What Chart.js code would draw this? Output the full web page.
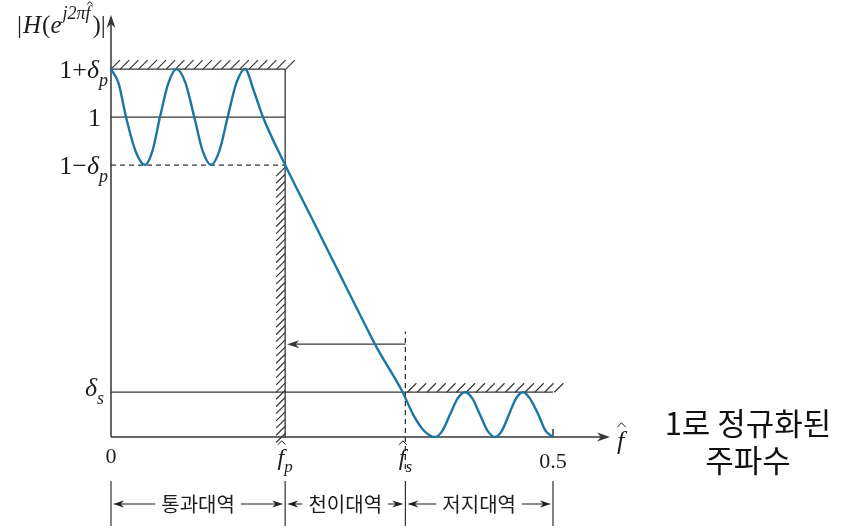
<!DOCTYPE html>
<html lang="ko">
<head>
<meta charset="UTF-8">
<title>저역통과 필터 사양</title>
<script src="https://cdn.jsdelivr.net/npm/chart.js"></script>
<style>
    html, body { margin: 0; padding: 0; background: #fff; }
    canvas { display: block; }
</style>
</head>
<body>
<canvas id="filterChart" width="851" height="529"></canvas>
<script>
// 필터 규격 (정규화 주파수, 크기)
const deltaP = 0.15;
const deltaS = 0.14;
const fPass = 0.197;
const fStop = 0.333;
const fHalf = 0.5;
const arrowLevel = 0.29;

// 크기 응답 |H| - 그림에서 읽은 점들 (통과대역 / 천이대역 / 저지대역)
const respF = [
    0, 0.0085, 0.017, 0.0277, 0.0385, 0.0469, 0.0554, 0.0649, 0.0743, 0.0843, 0.0942, 0.1037,
    0.1131, 0.1226, 0.132, 0.1418, 0.1516, 0.1618, 0.1719,
    0.197, 0.23, 0.26, 0.287, 0.301, 0.33,
    0.342, 0.3533, 0.3665, 0.375, 0.3835, 0.392, 0.4005, 0.4089, 0.4174, 0.4259,
    0.4344, 0.4423, 0.4502, 0.4581, 0.4661, 0.474, 0.4834, 0.4915, 0.5
];
const respMag = [
    1.15, 1.106, 1.0, 0.894, 0.85, 0.894, 1.0, 1.106, 1.15, 1.106, 1.0, 0.894,
    0.85, 0.894, 1.0, 1.106, 1.15, 1.08, 1.0,
    0.85, 0.668, 0.502, 0.353, 0.278, 0.14,
    0.069, 0.022, 0.0, 0.02, 0.07, 0.12, 0.14, 0.12, 0.07, 0.02,
    0.0, 0.02, 0.07, 0.12, 0.14, 0.12, 0.07, 0.02, 0.0
];

// 축 라벨
const bandNames = ['통과대역', '천이대역', '저지대역'];
const bandEdges = [0, fPass, fStop, fHalf];
const noteLines = ['1로 정규화된', '주파수'];

const lineGray = '#363636';
const curveBlue = '#1c76a2';
const serif = '"Liberation Serif", "DejaVu Serif", serif';

function seg(x1, y1, x2, y2) {
    return [{ x: x1, y: y1 }, { x: x2, y: y2 }];
}

function refLine(data, dashed) {
    return {
        data: data,
        borderColor: lineGray,
        borderWidth: 1.3,
        borderDash: dashed ? [5, 4] : [],
        pointRadius: 0,
        tension: 0,
        clip: false
    };
}

// 수식 조각 그리기: {t, i: 이탤릭, sub, sup, hat}
function drawMath(ctx, parts, x, y, align, size) {
    const fontOf = p => (p.i ? 'italic ' : '') + Math.round((p.sub || p.sup) ? size * 0.7 : size) + 'px ' + serif;
    let total = 0;
    parts.forEach(p => {
        ctx.font = fontOf(p);
        p.w = ctx.measureText(p.t).width + (p.pad || 0);
        total += p.w;
    });
    let cx = align === 'right' ? x - total : align === 'center' ? x - total / 2 : x;
    ctx.textAlign = 'left';
    ctx.textBaseline = 'alphabetic';
    parts.forEach(p => {
        ctx.font = fontOf(p);
        const dy = p.sub ? size * 0.3 : p.sup ? -size * 0.55 : 0;
        ctx.fillText(p.t, cx, y + dy);
        if (p.hat) {
            const fsz = (p.sub || p.sup) ? size * 0.7 : size;
            const hx = cx + p.w * 0.62;
            const hy = y + dy - fsz * 0.84;
            ctx.beginPath();
            ctx.moveTo(hx - fsz * 0.16, hy);
            ctx.lineTo(hx, hy - fsz * 0.17);
            ctx.lineTo(hx + fsz * 0.16, hy);
            ctx.lineWidth = 1;
            ctx.stroke();
        }
        cx += p.w;
    });
}

function arrowHead(ctx, x, y, dir, len, half) {
    ctx.beginPath();
    if (dir === 'left') { ctx.moveTo(x, y); ctx.lineTo(x + len, y - half); ctx.lineTo(x + len * 0.7, y); ctx.lineTo(x + len, y + half); }
    if (dir === 'right') { ctx.moveTo(x, y); ctx.lineTo(x - len, y - half); ctx.lineTo(x - len * 0.7, y); ctx.lineTo(x - len, y + half); }
    if (dir === 'up') { ctx.moveTo(x, y); ctx.lineTo(x - half, y + len); ctx.lineTo(x, y + len * 0.7); ctx.lineTo(x + half, y + len); }
    ctx.closePath();
    ctx.fill();
}

const sketchPlugin = {
    id: 'sketch',
    beforeDatasetsDraw(chart) {
        const ctx = chart.ctx;
        const xs = chart.scales.x, ys = chart.scales.y;
        const area = chart.chartArea;
        const x0 = xs.getPixelForValue(0), y0 = ys.getPixelForValue(0);
        ctx.save();
        ctx.strokeStyle = lineGray;
        ctx.fillStyle = lineGray;
        ctx.lineWidth = 1.5;

        // 축
        ctx.beginPath();
        ctx.moveTo(x0, y0); ctx.lineTo(x0, area.top + 4);
        ctx.moveTo(x0, y0); ctx.lineTo(area.right - 4, y0);
        ctx.stroke();
        arrowHead(ctx, x0, area.top, 'up', 13, 4.5);
        arrowHead(ctx, area.right, y0, 'right', 13, 4.5);

        // 0.5 눈금
        const xh = xs.getPixelForValue(fHalf);
        ctx.beginPath();
        ctx.moveTo(xh, y0); ctx.lineTo(xh, y0 - 8);
        ctx.stroke();

        // 빗금
        ctx.lineWidth = 1.2;
        const yTop = ys.getPixelForValue(1 + deltaP);
        const xp = xs.getPixelForValue(fPass);
        ctx.beginPath();
        for (let x = x0; x <= xp + 2; x += 9.2) { ctx.moveTo(x, yTop); ctx.lineTo(x + 9, yTop - 9); }
        const yLow = ys.getPixelForValue(1 - deltaP);
        for (let y = yLow + 2; y <= y0; y += 7.2) { ctx.moveTo(xp, y); ctx.lineTo(xp - 9, y + 9); }
        const ys0 = ys.getPixelForValue(deltaS);
        const xsPix = xs.getPixelForValue(fStop);
        for (let x = xsPix + 2; x <= xh + 2; x += 9.8) { ctx.moveTo(x, ys0); ctx.lineTo(x + 9, ys0 - 9); }
        ctx.stroke();

        // 천이대역 화살표
        const ya = ys.getPixelForValue(arrowLevel);
        ctx.lineWidth = 1.2;
        ctx.beginPath();
        ctx.moveTo(xsPix, ya); ctx.lineTo(xp + 8, ya);
        ctx.stroke();
        arrowHead(ctx, xp + 2, ya, 'left', 12, 4);
        ctx.restore();
    },
    afterDraw(chart) {
        const ctx = chart.ctx;
        const xs = chart.scales.x, ys = chart.scales.y;
        const x0 = xs.getPixelForValue(0), y0 = ys.getPixelForValue(0);
        ctx.save();
        ctx.fillStyle = '#1e1e1e';
        ctx.strokeStyle = '#1e1e1e';

        // 세로축 제목
        drawMath(ctx, [
            { t: '|', pad: 1 }, { t: 'H', i: true, pad: 1 }, { t: '(' }, { t: 'e', i: true, pad: 1 },
            { t: 'j2π', i: true, sup: true }, { t: 'f', i: true, sup: true, hat: true, pad: 2 }, { t: ')|' }
        ], 17, 33, 'left', 25);

        // 세로축 눈금 라벨
        const lx = x0 - 3;
        drawMath(ctx, [{ t: '1+' }, { t: 'δ', i: true }, { t: 'p', i: true, sub: true }], lx, ys.getPixelForValue(1 + deltaP) + 9, 'right', 26);
        drawMath(ctx, [{ t: '1' }], x0 - 10, ys.getPixelForValue(1) + 9, 'right', 26);
        drawMath(ctx, [{ t: '1−' }, { t: 'δ', i: true }, { t: 'p', i: true, sub: true }], lx, ys.getPixelForValue(1 - deltaP) + 9, 'right', 26);
        drawMath(ctx, [{ t: 'δ', i: true }, { t: 's', i: true, sub: true }], x0 - 7, ys.getPixelForValue(deltaS) + 4, 'right', 26);

        // 가로축 눈금 라벨
        drawMath(ctx, [{ t: '0' }], x0, y0 + 26, 'center', 22);
        drawMath(ctx, [{ t: 'f', i: true, hat: true }, { t: 'p', i: true, sub: true }], xs.getPixelForValue(fPass), y0 + 28, 'center', 24);
        drawMath(ctx, [{ t: 'f', i: true, hat: true }, { t: 's', i: true, sub: true }], xs.getPixelForValue(fStop), y0 + 28, 'center', 24);
        drawMath(ctx, [{ t: '0.5' }], xs.getPixelForValue(fHalf), y0 + 31, 'center', 22);
        drawMath(ctx, [{ t: 'f', i: true, hat: true }], chart.chartArea.right + 7, y0 + 12, 'left', 26);

        // 대역 구분
        const rowY = y0 + 67;
        ctx.lineWidth = 1.1;
        bandEdges.forEach(f => {
            const px = xs.getPixelForValue(f);
            ctx.beginPath();
            ctx.moveTo(px, y0 + 44); ctx.lineTo(px, y0 + 89);
            ctx.stroke();
        });
        ctx.font = '20px "Noto Sans CJK KR", sans-serif';
        ctx.textAlign = 'center';
        ctx.textBaseline = 'middle';
        bandNames.forEach((name, i) => {
            const a = xs.getPixelForValue(bandEdges[i]);
            const b = xs.getPixelForValue(bandEdges[i + 1]);
            const mid = (a + b) / 2;
            const half = ctx.measureText(name).width / 2;
            ctx.fillText(name, mid, rowY);
            ctx.beginPath();
            ctx.moveTo(a + 6, rowY); ctx.lineTo(mid - half - 6, rowY);
            ctx.moveTo(mid + half + 6, rowY); ctx.lineTo(b - 6, rowY);
            ctx.stroke();
            arrowHead(ctx, a + 2, rowY, 'left', 11, 3.5);
            arrowHead(ctx, b - 2, rowY, 'right', 11, 3.5);
        });

        // 오른쪽 설명
        ctx.fillStyle = '#111';
        ctx.font = '31px "Noto Sans CJK KR", sans-serif';
        ctx.fillText(noteLines[0], 748, 423);
        ctx.fillText(noteLines[1], 748, 460);
        ctx.restore();
    }
};

const response = respF.map((f, i) => ({ x: f, y: respMag[i] }));

const config = {
    type: 'line',
    data: {
        datasets: [
            {
                data: response,
                borderColor: curveBlue,
                borderWidth: 2.4,
                pointRadius: 0,
                cubicInterpolationMode: 'monotone',
                clip: false
            },
            refLine(seg(0, 1 + deltaP, fPass, 1 + deltaP)),
            refLine(seg(0, 1, fPass, 1)),
            refLine(seg(0, 1 - deltaP, fPass, 1 - deltaP), true),
            refLine(seg(fPass, 0, fPass, 1 + deltaP)),
            refLine(seg(0, deltaS, fHalf, deltaS)),
            refLine(seg(fStop, -0.1, fStop, 0.33), true)
        ]
    },
    options: {
        responsive: false,
        animation: false,
        layout: { padding: { left: 111, right: 241, top: 15, bottom: 92 } },
        scales: {
            x: { type: 'linear', min: 0, max: 0.5645, display: false },
            y: { type: 'linear', min: 0, max: 1.319, display: false }
        },
        plugins: {
            legend: { display: false },
            tooltip: { enabled: false }
        }
    },
    plugins: [sketchPlugin]
};

new Chart(document.getElementById('filterChart').getContext('2d'), config);
</script>
</body>
</html>
